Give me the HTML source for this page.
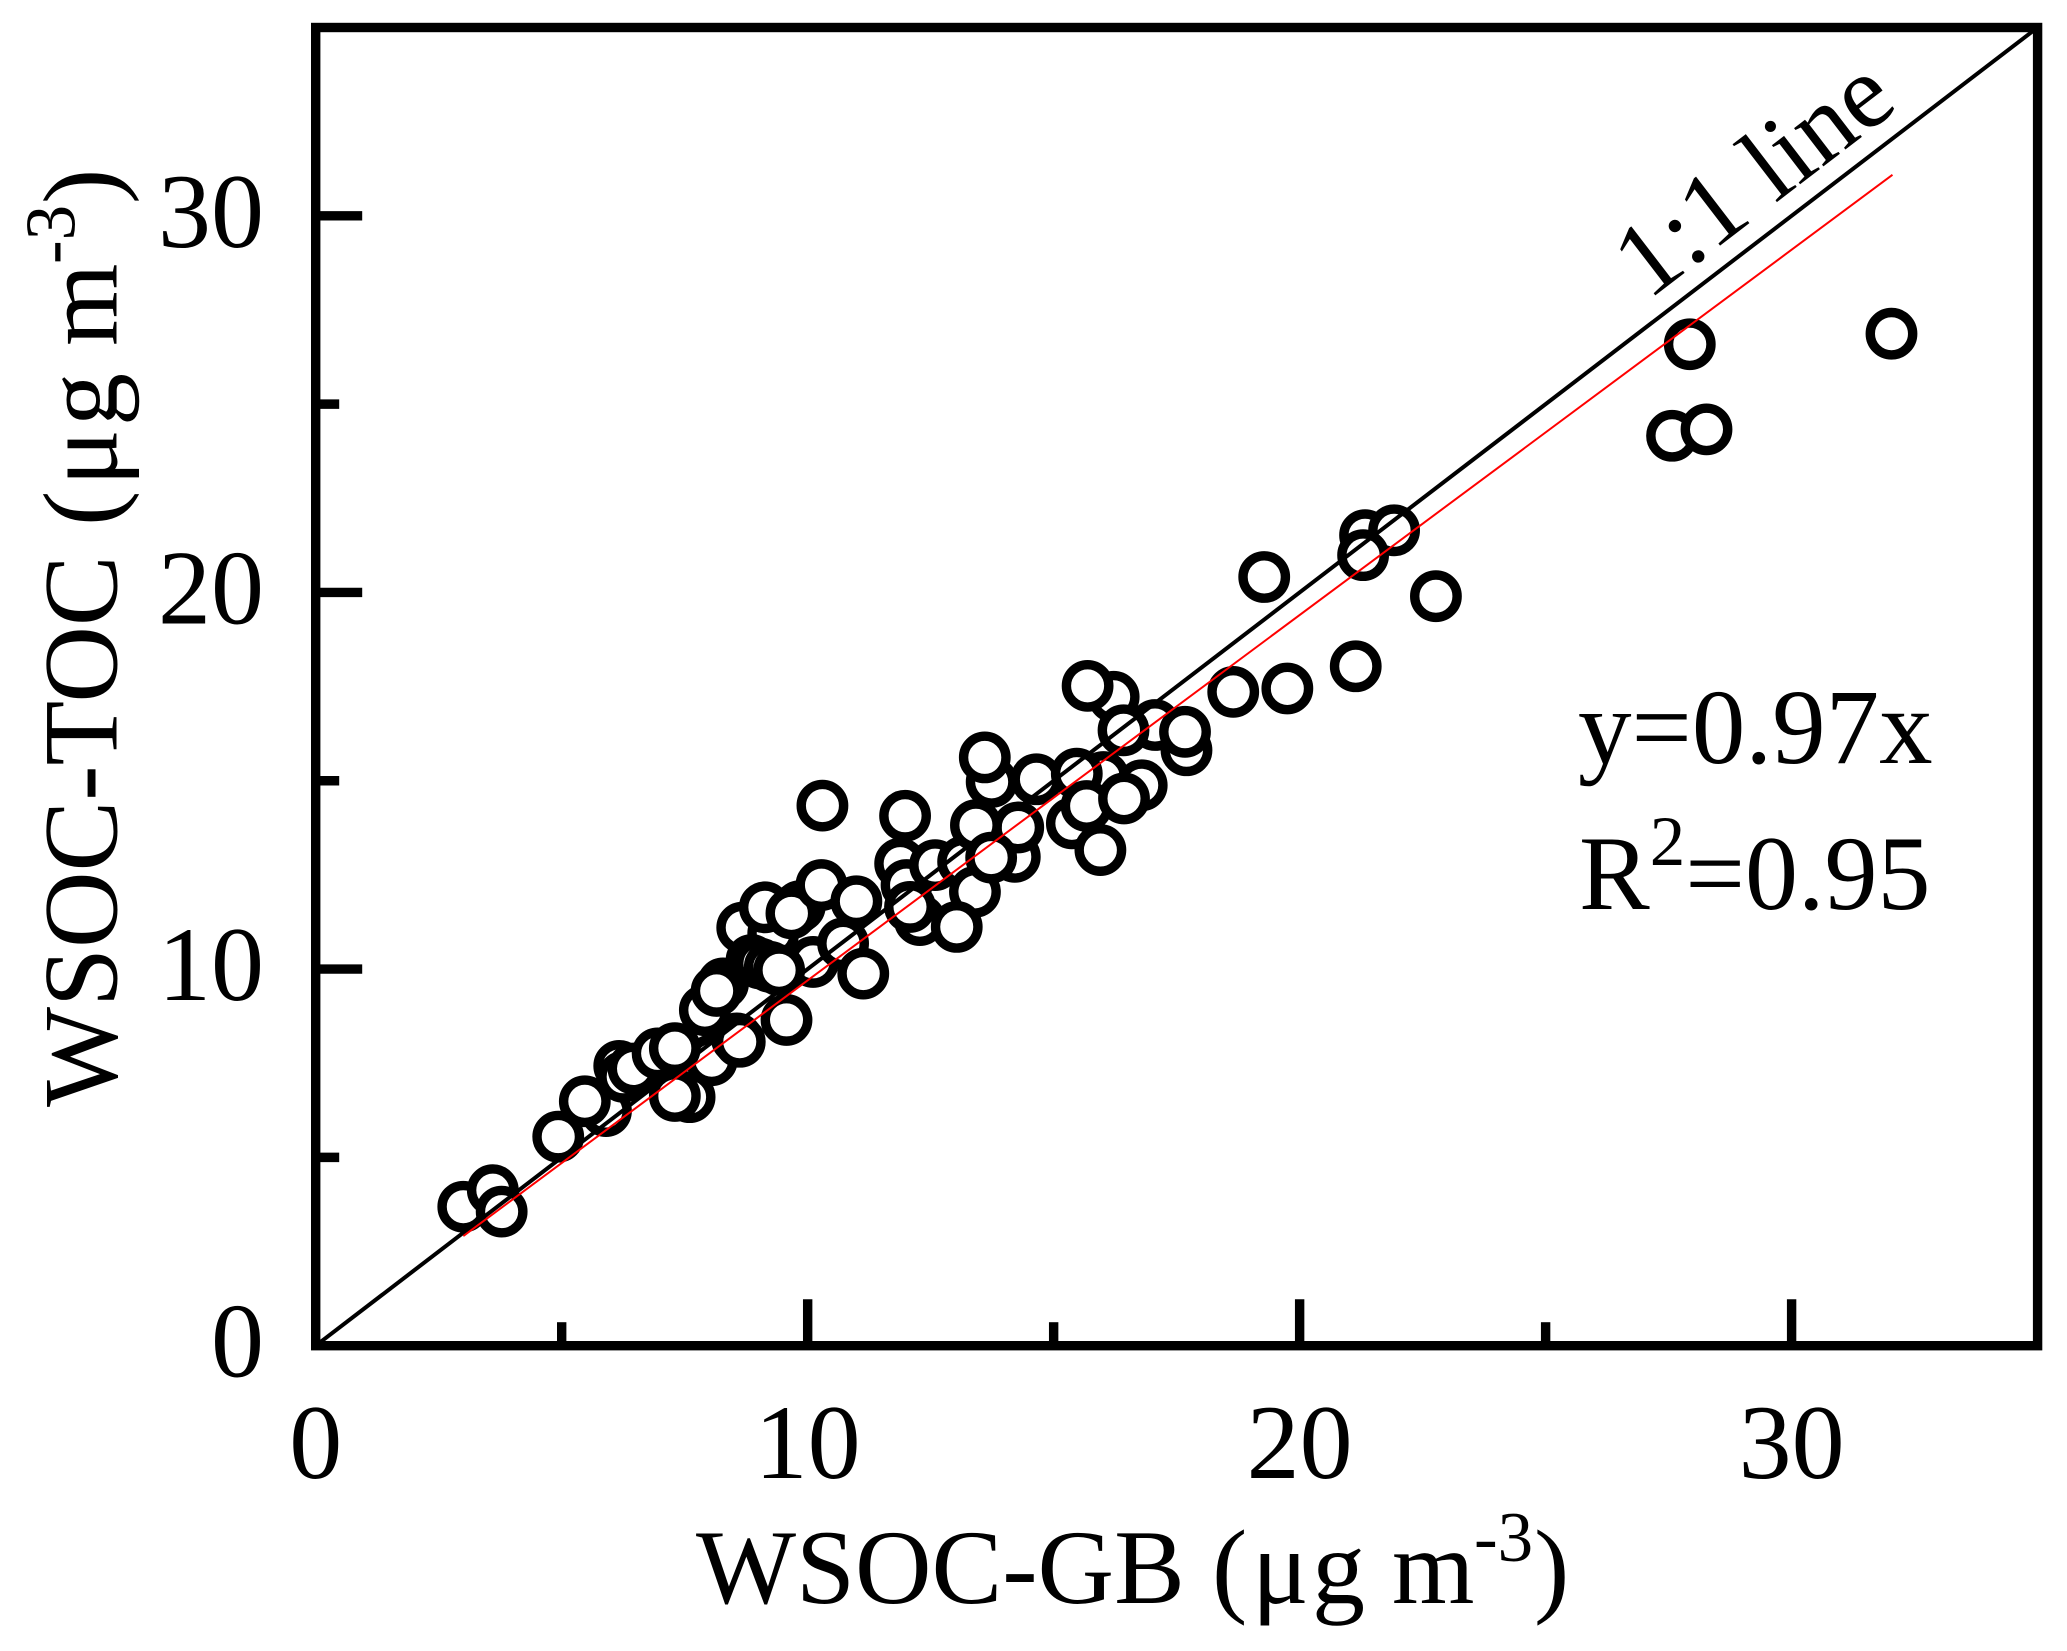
<!DOCTYPE html>
<html>
<head>
<meta charset="utf-8">
<title>WSOC-TOC vs WSOC-GB</title>
<style>
html,body{margin:0;padding:0;background:#fff;}
svg{display:block;}
text{font-family:"Liberation Serif",serif;fill:#000;}
</style>
</head>
<body>
<svg id="chart" xmlns="http://www.w3.org/2000/svg" width="2067" height="1651" viewBox="0 0 2067 1651">
  <rect width="2067" height="1651" fill="#fff"/>
  <g id="under"></g>
  <g id="lines"></g>
  <g id="over"></g>
  <g id="fit"></g>
  <g id="axes"></g>
  <text transform="translate(696,1603)" font-size="106"><tspan x="0">WSOC-GB</tspan><tspan x="516">(</tspan><tspan x="556">μ</tspan><tspan x="616">g</tspan><tspan x="696">m</tspan><tspan x="778" font-size="71" dy="-42">-3</tspan><tspan x="838" dy="42">)</tspan></text>
  <text transform="translate(116.5,1107) rotate(-90)" font-size="106"><tspan x="0">WSOC-TOC</tspan><tspan x="581">(</tspan><tspan x="621">μ</tspan><tspan x="681">g</tspan><tspan x="761">m</tspan><tspan x="843" font-size="71" dy="-42">-3</tspan><tspan x="903" dy="42">)</tspan></text>
  <text transform="translate(1648,301) rotate(-37.5)" font-size="105">1:1 line</text>
  <text x="1578" y="763" font-size="107">y=0.97x</text>
  <text x="1579" y="909" font-size="106">R<tspan font-size="71" dy="-44">2</tspan><tspan dy="44">=0.95</tspan></text>
</svg>
<script>
// Chart data
const xUnder = [3.0,3.6,3.78,5.9,7.6,8.05,8.56,8.62,10.11,10.72,11.88,12.01,12.28,12.08,12.59,13.16,14.65,16.01,15.47,16.22,15.69,17.06,16.42,21.33,21.92,21.29];
const yUnder = [3.69,4.13,3.56,6.23,6.6,7.58,8.16,8.07,10.19,10.68,12.8,12.23,11.3,11.65,12.76,12.85,15.04,15.1,15.19,17.23,17.52,16.48,16.34,21.52,21.65,20.99];
const xOver = [4.93,5.47,6.17,6.25,6.46,6.95,7.3,7.3,7.91,8.28,8.15,9.57,8.67,9.3,8.86,9.03,9.23,9.42,9.13,9.84,9.77,9.67,10.28,10.99,11.13,11.98,10.3,13.4,13.03,14.21,14.28,13.42,13.73,13.74,13.6,15.37,15.67,15.95,16.79,16.43,17.7,17.67,18.65,19.75,19.28,21.14,22.77,27.57,28.27,27.93,32.03];
const yOver = [5.55,6.49,7.43,7.14,7.36,7.76,7.9,6.63,8.91,9.62,9.42,8.65,11.1,10.95,10.24,10.15,10.06,9.97,11.64,11.67,11.6,11.48,12.23,11.8,9.88,14.07,14.34,12.05,11.12,12.98,13.76,13.82,12.96,14.97,15.62,13.87,14.33,13.16,14.88,14.53,15.81,16.3,17.36,17.45,20.41,18.04,19.9,24.16,24.33,26.59,26.87];
const xMajorTicks = [0,10,20,30];
const xMinorTicks = [5,15,25];
const yMajorTicks = [0,10,20,30];
const yMinorTicks = [5,15,25];
const axisMax = [35,35];
const fitSlope = 0.97;
const fitRange = [3,32.05];

const NS = 'http://www.w3.org/2000/svg';
const X0 = 315.7, Y0 = 1345.7, PXW = 1721.9, PYH = 1318.2;
function sx(v){return X0 + v / axisMax[0] * PXW;}
function sy(v){return Y0 - v / axisMax[1] * PYH;}
function mk(tag,parent,attrs){
  const el = document.createElementNS(NS,tag);
  for(const k in attrs){el.setAttribute(k,attrs[k]);}
  parent.appendChild(el);
  return el;
}
function drawPoints(xs,ys,parent){
  xs.forEach(function(x,i){
    const c = mk('circle',parent,{cx:sx(x),cy:sy(ys[i]),r:21.2,fill:'#fff',stroke:'#000','stroke-width':9.4});
    
    
  });
}
drawPoints(xUnder,yUnder,document.getElementById('under'));
drawPoints(xOver,yOver,document.getElementById('over'));

const line11 = mk('line',document.getElementById('lines'),{x1:sx(0),y1:sy(0),x2:sx(axisMax[0]),y2:sy(axisMax[1]),stroke:'#000','stroke-width':4});



const fitLine = mk('line',document.getElementById('fit'),{x1:sx(fitRange[0]),y1:sy(fitRange[0]*fitSlope),x2:sx(fitRange[1]),y2:sy(fitRange[1]*fitSlope),stroke:'#f00','stroke-width':2});



const axes = document.getElementById('axes');
const frame = mk('rect',axes,{x:sx(0),y:sy(axisMax[1]),width:sx(axisMax[0])-sx(0),height:sy(0)-sy(axisMax[1]),fill:'none',stroke:'#000','stroke-width':9.4});



const MAJOR = 46.5, MINOR = 23.5;
xMajorTicks.forEach(function(v){
  if(v !== 0){
    const t = mk('line',axes,{x1:sx(v),x2:sx(v),y1:sy(0),y2:sy(0)-MAJOR,stroke:'#000','stroke-width':9.4});
    
    
  }
  const l = mk('text',axes,{x:sx(v),y:1478,'font-size':106,'text-anchor':'middle'});
  l.textContent = String(v);
  
  
});
xMinorTicks.forEach(function(v){
  const t = mk('line',axes,{x1:sx(v),x2:sx(v),y1:sy(0),y2:sy(0)-MINOR,stroke:'#000','stroke-width':9.4});
  
  
});
yMajorTicks.forEach(function(v){
  if(v !== 0){
    const t = mk('line',axes,{x1:sx(0),x2:sx(0)+MAJOR,y1:sy(v),y2:sy(v),stroke:'#000','stroke-width':9.4});
    
    
  }
  const l = mk('text',axes,{x:264,y:sy(v)+31,'font-size':106,'text-anchor':'end'});
  l.textContent = String(v);
  
  
});
yMinorTicks.forEach(function(v){
  const t = mk('line',axes,{x1:sx(0),x2:sx(0)+MINOR,y1:sy(v),y2:sy(v),stroke:'#000','stroke-width':9.4});
  
  
});
</script>
</body>
</html>
